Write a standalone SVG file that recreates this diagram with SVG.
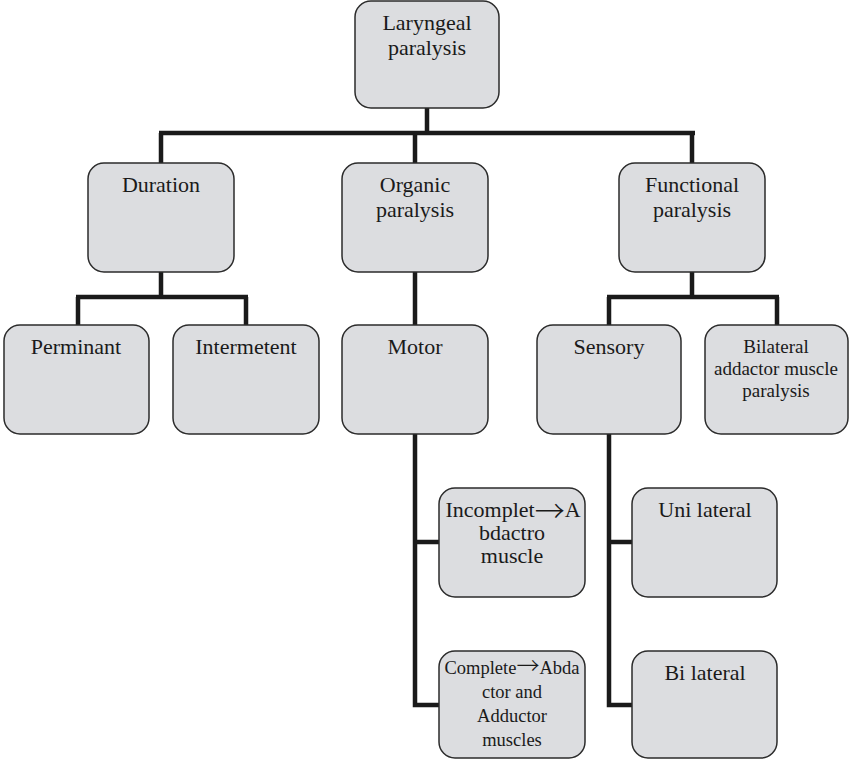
<svg xmlns="http://www.w3.org/2000/svg" width="849" height="761" viewBox="0 0 849 761">
<style>
.box{fill:#dcdde0;stroke:#2b2b2b;stroke-width:1.5}
.t{font-family:"Liberation Serif","Times New Roman",serif;font-size:22px;fill:#1a1a1a;text-anchor:middle}
.s{font-size:19px}
.m{font-size:18.5px}
.ar{font-family:"Noto Sans CJK SC",sans-serif;font-weight:300}
.c{fill:none;stroke:#1a1a1a;stroke-width:4.5;stroke-linecap:butt;stroke-linejoin:miter}
</style>
<rect width="849" height="761" fill="#ffffff"/>
<g id="connectors">
<path class="c" d="M427 108 V133 M159 133 H695 M161 133 V163 M415 133 V163 M692 133 V163"/>
<path class="c" d="M161 272 V297 M76 297 H248 M78 297 V325 M246 297 V325"/>
<path class="c" d="M415 272 V325"/>
<path class="c" d="M692 272 V297 M607 297 H779 M609 297 V325 M777 297 V325"/>
<path class="c" d="M415 434 V705 H439 M415 542 H439"/>
<path class="c" d="M609 434 V705 H632 M609 542 H632"/>
</g>
<g id="laryngeal"><rect class="box" x="355" y="1" width="144" height="107" rx="16"/><text class="t" x="427" y="30">Laryngeal</text><text class="t" x="427" y="55">paralysis</text></g>
<g id="duration"><rect class="box" x="88" y="163" width="146" height="109" rx="16"/><text class="t" x="161" y="192">Duration</text></g>
<g id="organic"><rect class="box" x="342" y="163" width="146" height="109" rx="16"/><text class="t" x="415" y="192">Organic</text><text class="t" x="415" y="217">paralysis</text></g>
<g id="functional"><rect class="box" x="619" y="163" width="146" height="109" rx="16"/><text class="t" x="692" y="192">Functional</text><text class="t" x="692" y="217">paralysis</text></g>
<g id="perminant"><rect class="box" x="4" y="325" width="145" height="109" rx="16"/><text class="t" x="76" y="354">Perminant</text></g>
<g id="intermetent"><rect class="box" x="173" y="325" width="146" height="109" rx="16"/><text class="t" x="246" y="354">Intermetent</text></g>
<g id="motor"><rect class="box" x="342" y="325" width="146" height="109" rx="16"/><text class="t" x="415" y="354">Motor</text></g>
<g id="sensory"><rect class="box" x="537" y="325" width="144" height="109" rx="16"/><text class="t" x="609" y="354">Sensory</text></g>
<g id="bilateral-addactor"><rect class="box" x="705" y="325" width="143" height="109" rx="16"/><text class="t s" x="776" y="353">Bilateral</text><text class="t s" x="776" y="375">addactor muscle</text><text class="t s" x="776" y="397">paralysis</text></g>
<g id="incomplet"><rect class="box" x="439" y="488" width="146" height="109" rx="16"/><text class="t" x="513" y="517">Incomplet<tspan class="ar" font-size="30" dy="5">→</tspan><tspan dy="-5">A</tspan></text><text class="t" x="512" y="540">bdactro</text><text class="t" x="512" y="563">muscle</text></g>
<g id="complete"><rect class="box" x="439" y="651" width="146" height="107" rx="16"/><text class="t m" x="512" y="674">Complete<tspan class="ar" font-size="23">→</tspan>Abda</text><text class="t m" x="512" y="698">ctor and</text><text class="t m" x="512" y="722">Adductor</text><text class="t m" x="512" y="746">muscles</text></g>
<g id="unilateral"><rect class="box" x="632" y="488" width="145" height="109" rx="16"/><text class="t" x="705" y="517">Uni lateral</text></g>
<g id="bilateral"><rect class="box" x="632" y="651" width="145" height="107" rx="16"/><text class="t" x="705" y="680">Bi lateral</text></g>
</svg>
